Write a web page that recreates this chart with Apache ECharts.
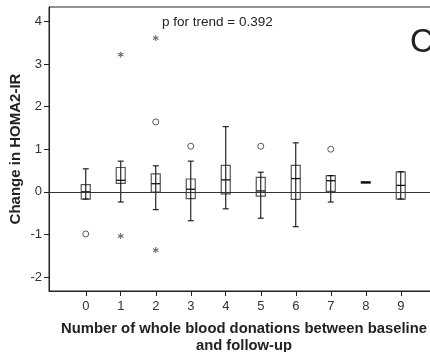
<!DOCTYPE html>
<html>
<head>
<meta charset="utf-8">
<script src="https://cdn.jsdelivr.net/npm/echarts@6/dist/echarts.min.js"></script>
<style>html,body{margin:0;padding:0;background:#fff}#c{width:430px;height:352px}</style>
</head>
<body>
<div id="c"></div>
<script>
// categories (number of donations)
var categories = [0, 1, 2, 3, 4, 5, 6, 7, 8, 9];
// box stats: [min, Q1, median, Q3, max]
var boxStats = [
  [-0.17, -0.17, 0.00, 0.17, 0.54],
  [-0.24, 0.20, 0.27, 0.57, 0.72],
  [-0.42, -0.01, 0.19, 0.42, 0.61],
  [-0.68, -0.16, 0.06, 0.30, 0.72],
  [-0.40, -0.05, 0.28, 0.62, 1.53],
  [-0.62, -0.10, 0.02, 0.34, 0.46],
  [-0.82, -0.18, 0.31, 0.62, 1.15],
  [-0.24, 0.01, 0.26, 0.38, 0.38],
  [0.22, 0.22, 0.22, 0.22, 0.22],
  [-0.17, -0.17, 0.15, 0.47, 0.47]
];
// outliers: [category, value]
var circleOutliers = [[0, -0.99], [2, 1.64], [3, 1.07], [5, 1.07], [7, 1.00]];
var starOutliers = [[1, 3.22], [1, -1.04], [2, 3.61], [2, -1.37]];
var yTicks = [-2, -1, 0, 1, 2, 3, 4];
var pText = 'p for trend = 0.392';

var FONT = '"Liberation Sans", Arial, Helvetica, sans-serif';
var boxData = boxStats.map(function (s, i) { return [categories[i]].concat(s); });
var X_MIN = -1.05, X_MAX = 9.95, Y_MIN = -2.33, Y_MAX = 4.34;

var starPath = 'path://M-0.7,-5L0.7,-5L0.7,5L-0.7,5Z M3.98,3.11L4.68,1.89L-3.98,-3.11L-4.68,-1.89Z M-3.98,3.11L-4.68,1.89L3.98,-3.11L4.68,-1.89Z';

var chart = echarts.init(document.getElementById('c'), null, {renderer: 'canvas'});
chart.setOption({
  animation: false,
  backgroundColor: '#fff',
  grid: {left: 49, width: 385, top: 7, bottom: 61, containLabel: false, outerBoundsMode: 'none',
    show: true, borderColor: '#222', borderWidth: 1, backgroundColor: 'transparent'},
  xAxis: {
    type: 'value', min: X_MIN, max: X_MAX,
    axisLine: {show: true, onZero: false, lineStyle: {color: '#222', width: 1}},
    axisTick: {show: true, customValues: categories, length: 5, lineStyle: {color: '#222', width: 1}},
    axisLabel: {customValues: categories, color: '#333', fontSize: 13, fontFamily: FONT, margin: 9},
    splitLine: {show: false}
  },
  yAxis: {
    type: 'value', min: Y_MIN, max: Y_MAX,
    axisLine: {show: true, onZero: false, lineStyle: {color: '#222', width: 1}},
    axisTick: {show: true, customValues: yTicks, length: 5, lineStyle: {color: '#222'}},
    axisLabel: {customValues: yTicks, color: '#333', fontSize: 13, fontFamily: FONT, margin: 7},
    splitLine: {show: false}
  },
  series: [{
    type: 'custom',
    data: boxData,
    clip: false,
    encode: {x: 0, y: [1, 2, 3, 4, 5]},
    markLine: {
      silent: true, symbol: 'none', label: {show: false},
      lineStyle: {color: '#333', width: 1, type: 'solid'},
      data: [{yAxis: 0}]
    },
    renderItem: function (params, api) {
      var x = api.value(0);
      var pMin = api.coord([x, api.value(1)]);
      var pQ1 = api.coord([x, api.value(2)]);
      var pMed = api.coord([x, api.value(3)]);
      var pQ3 = api.coord([x, api.value(4)]);
      var pMax = api.coord([x, api.value(5)]);
      var cx = pMin[0];
      var hw = 4.5, cap = 3;
      var children = [];
      if (api.value(1) === api.value(5)) {
        children.push({type: 'line', shape: {x1: cx - 5, y1: pMed[1], x2: cx + 5, y2: pMed[1]},
          style: {stroke: '#111', lineWidth: 2.5}});
        return {type: 'group', children: children};
      }
      children.push({type: 'rect', shape: {x: cx - hw, y: pQ3[1], width: hw * 2, height: pQ1[1] - pQ3[1]},
        style: {fill: 'none', stroke: '#555', lineWidth: 1.2}});
      children.push({type: 'line', shape: {x1: cx, y1: pMin[1], x2: cx, y2: pMax[1]},
        style: {stroke: '#111', lineWidth: 1.1}});
      children.push({type: 'line', shape: {x1: cx - hw, y1: pMed[1], x2: cx + hw, y2: pMed[1]},
        style: {stroke: '#111', lineWidth: 1.3}});
      children.push({type: 'line', shape: {x1: cx - cap, y1: pMax[1], x2: cx + cap, y2: pMax[1]},
        style: {stroke: '#111', lineWidth: 1.1}});
      children.push({type: 'line', shape: {x1: cx - cap, y1: pMin[1], x2: cx + cap, y2: pMin[1]},
        style: {stroke: '#111', lineWidth: 1.1}});
      return {type: 'group', children: children};
    }
  }, {
    type: 'scatter',
    data: circleOutliers,
    symbol: 'circle', symbolSize: 6,
    itemStyle: {color: '#fff', borderColor: '#333', borderWidth: 1}
  }, {
    type: 'scatter',
    data: starOutliers,
    symbol: starPath, symbolSize: 6,
    itemStyle: {color: '#222'}
  }],
  graphic: [
    {type: 'text', left: 162, top: 15, style: {text: pText, font: '13.5px ' + FONT, fill: '#222'}},
    {type: 'text', left: 410, top: 26, style: {text: 'C', font: '33px ' + FONT, fill: '#222'}},
    {type: 'text', x: 16, y: 149, rotation: Math.PI / 2,
      style: {text: 'Change in HOMA2-IR', font: 'bold 15px ' + FONT, fill: '#222', align: 'center', verticalAlign: 'middle'}},
    {type: 'text', x: 244, y: 329, style: {text: 'Number of whole blood donations between baseline', font: 'bold 14.8px ' + FONT, fill: '#222', align: 'center', verticalAlign: 'middle'}},
    {type: 'text', x: 244, y: 346, style: {text: 'and follow-up', font: 'bold 14.8px ' + FONT, fill: '#222', align: 'center', verticalAlign: 'middle'}}
  ]
});
</script>
</body>
</html>
